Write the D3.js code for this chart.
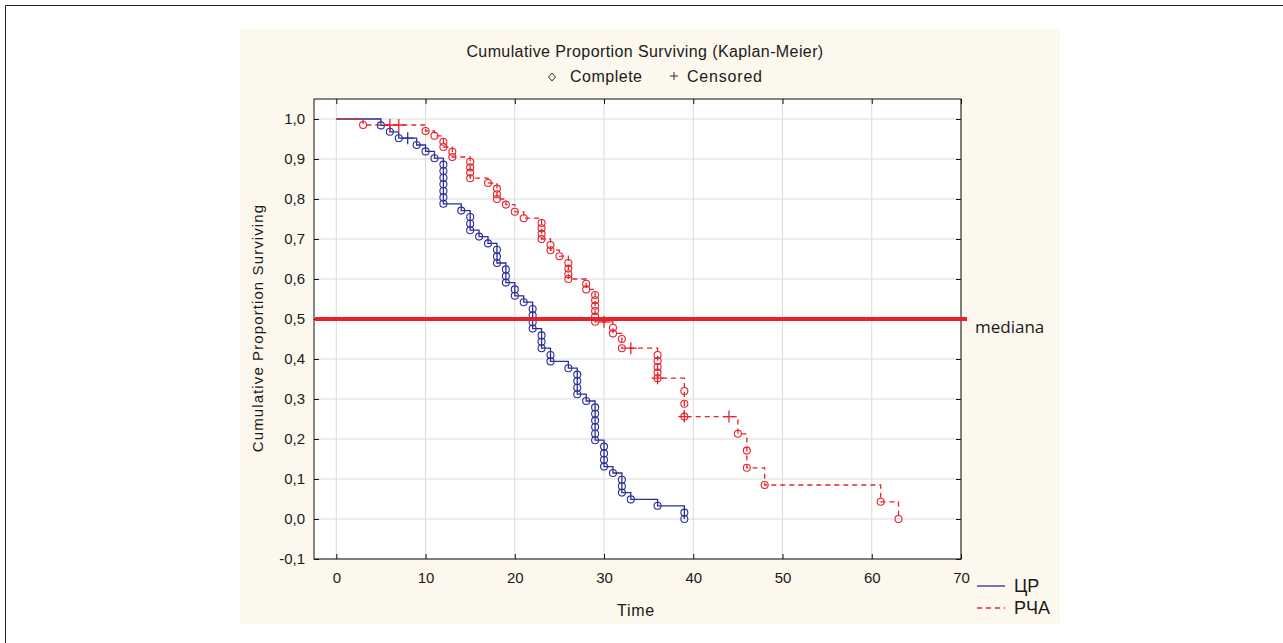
<!DOCTYPE html>
<html>
<head>
<meta charset="utf-8">
<script src="https://cdnjs.cloudflare.com/ajax/libs/d3/7.8.5/d3.min.js"></script>
<style>
    body { margin: 0; background: #fff; }
    text { font-family: "Liberation Sans", Arial, sans-serif; fill: #1a1a1a; }
</style>
</head>
<body>
<div id="chart"></div>
<script>
// ЦР group - complete observations (time, cumulative proportion surviving)
var crTime = [5, 6, 7, 9, 10, 11, 12, 12, 12, 12, 12, 12, 12, 14, 15, 15, 15, 16, 17,
    18, 18, 18, 19, 19, 19, 20, 20, 21, 22, 22, 22, 22, 23, 23, 23, 24, 24, 26,
    27, 27, 27, 27, 28, 29, 29, 29, 29, 29, 29, 30, 30, 30, 30, 31, 32, 32, 32, 33, 36, 39, 39];
var crSurv = [0.984, 0.968, 0.952, 0.935, 0.919, 0.902, 0.886, 0.870, 0.853, 0.837, 0.820, 0.804, 0.788,
    0.771, 0.755, 0.738, 0.722, 0.706, 0.689, 0.673, 0.656, 0.640, 0.624, 0.607, 0.591,
    0.574, 0.558, 0.542, 0.525, 0.509, 0.492, 0.476, 0.459, 0.443, 0.427, 0.410, 0.394,
    0.377, 0.361, 0.345, 0.328, 0.312, 0.295, 0.279, 0.263, 0.246, 0.230, 0.213, 0.197,
    0.181, 0.164, 0.148, 0.131, 0.115, 0.098, 0.082, 0.066, 0.049, 0.033, 0.016, 0.0];
// ЦР censored
var crCensTime = [8];
var crCensSurv = [0.952];

// РЧА group - complete observations
var rchaTime = [3, 10, 11, 12, 12, 13, 13, 15, 15, 15, 15, 17, 18, 18, 18, 19, 20, 21,
    23, 23, 23, 23, 24, 24, 25, 26, 26, 26, 26, 28, 28, 29, 29, 29, 29, 29, 29,
    31, 31, 32, 32, 36, 36, 36, 36, 36, 39, 39, 39, 45, 46, 46, 48, 61, 63];
var rchaSurv = [0.985, 0.970, 0.958, 0.943, 0.930, 0.918, 0.905, 0.893, 0.879, 0.866, 0.852,
    0.840, 0.826, 0.812, 0.800, 0.786, 0.768, 0.752, 0.740, 0.727, 0.713, 0.700,
    0.685, 0.672, 0.657, 0.640, 0.626, 0.612, 0.600, 0.588, 0.574,
    0.560, 0.547, 0.533, 0.520, 0.506, 0.493, 0.478, 0.464, 0.450, 0.427,
    0.410, 0.395, 0.380, 0.366, 0.352, 0.320, 0.288, 0.256, 0.213, 0.171, 0.128, 0.085, 0.043, 0.0];
// РЧА censored
var rchaCensTime = [6, 7, 30, 33, 36, 39, 44];
var rchaCensSurv = [0.985, 0.985, 0.493, 0.427, 0.352, 0.256, 0.256];

var xTicks = [0, 10, 20, 30, 40, 50, 60, 70];
var yTicks = [-0.1, 0, 0.1, 0.2, 0.3, 0.4, 0.5, 0.6, 0.7, 0.8, 0.9, 1.0];
var groupNames = ["ЦР", "РЧА"];
var medianValue = 0.5;

var blue = "#2b2f96", red = "#e8232b";

var margin = { top: 99, left: 314 },
    width = 647,
    height = 460;

var svg = d3.select("#chart")
    .append("svg")
    .attr("width", 1283)
    .attr("height", 643);

// outer border + panel
svg.append("path").attr("d", "M5.5,643V5.5H1283").attr("fill", "none").attr("stroke", "#222");
svg.append("rect")
    .attr("x", 240).attr("y", 29)
    .attr("width", 820).attr("height", 595)
    .attr("fill", "#fcf8ee");

var g = svg.append("g")
    .attr("transform", "translate(" + margin.left + "," + margin.top + ")");

var x = d3.scaleLinear().domain([-2.5, 70]).range([0, width]);
var y = d3.scaleLinear().domain([-0.1, 1.05]).range([height, 0]);

g.append("rect").attr("width", width).attr("height", height).attr("fill", "#fff");

// grid
g.selectAll(".vgrid").data(xTicks).enter().append("line")
    .attr("x1", function (d) { return x(d); }).attr("x2", function (d) { return x(d); })
    .attr("y1", 0).attr("y2", height)
    .attr("stroke", "#dadada");
g.selectAll(".hgrid").data(yTicks).enter().append("line")
    .attr("y1", function (d) { return y(d); }).attr("y2", function (d) { return y(d); })
    .attr("x1", 0).attr("x2", width)
    .attr("stroke", "#dadada");

var fmt = d3.formatLocale({ decimal: ",", thousands: ".", grouping: [3], currency: ["", ""], minus: "-" }).format(".1f");

g.append("g")
    .attr("transform", "translate(0," + height + ")")
    .call(d3.axisBottom(x).tickValues(xTicks).tickSize(-5).tickPadding(13));
g.append("g")
    .call(d3.axisLeft(y).tickValues(yTicks).tickSize(-5).tickPadding(9).tickFormat(fmt));
g.append("g").call(d3.axisTop(x).tickValues(xTicks).tickSize(-5).tickFormat(""));
g.append("g").attr("transform", "translate(" + width + ",0)")
    .call(d3.axisRight(y).tickValues(yTicks).tickSize(-5).tickFormat(""));

g.selectAll(".domain").remove();
g.selectAll(".tick line").attr("stroke", "#111");
g.selectAll(".tick text")
    .style("font-size", "15px")
    .style("font-family", "Liberation Sans, Arial, sans-serif")
    .attr("fill", "#1a1a1a");

g.append("rect").attr("width", width).attr("height", height)
    .attr("fill", "none").attr("stroke", "#111");

// step curves
var line = d3.line()
    .x(function (d) { return x(d[0]); })
    .y(function (d) { return y(d[1]); })
    .curve(d3.curveStepAfter);

function pts(t, s) {
    var out = [[0, 1]];
    t.forEach(function (d, i) { out.push([d, s[i]]); });
    return out;
}

function drawGroup(t, s, ct, cs, color, dash) {
    g.append("path")
        .datum(pts(t, s))
        .attr("d", line)
        .attr("fill", "none")
        .attr("stroke", color)
        .attr("stroke-width", 1.3)
        .attr("stroke-dasharray", dash);

    g.selectAll(null).data(t).enter().append("circle")
        .attr("cx", function (d) { return x(d); })
        .attr("cy", function (d, i) { return y(s[i]); })
        .attr("r", 3.5)
        .attr("fill", "none")
        .attr("stroke", color)
        .attr("stroke-width", 1.1);

    g.selectAll(null).data(ct).enter().append("path")
        .attr("transform", function (d, i) { return "translate(" + x(d) + "," + y(cs[i]) + ")"; })
        .attr("d", "M-6,0H6M0,-6V6")
        .attr("stroke", color)
        .attr("stroke-width", 1.3);
}

drawGroup(crTime, crSurv, crCensTime, crCensSurv, blue, null);
drawGroup(rchaTime, rchaSurv, rchaCensTime, rchaCensSurv, red, "5,4");

// median line
g.append("line")
    .attr("x1", x(-2.5) + 1).attr("x2", x(70) + 6)
    .attr("y1", y(medianValue)).attr("y2", y(medianValue))
    .attr("stroke", "#e8202a")
    .attr("stroke-width", 4);

svg.append("text")
    .attr("x", 975).attr("y", 333)
    .style("font-family", "Open Sans, sans-serif")
    .style("font-size", "17px")
    .text("mediana");

// title + legend
svg.append("text")
    .attr("x", 645).attr("y", 57)
    .attr("text-anchor", "middle")
    .style("font-size", "16px")
    .style("letter-spacing", "0.4px")
    .text("Cumulative Proportion Surviving (Kaplan-Meier)");

svg.append("path")
    .attr("transform", "translate(552,77)")
    .attr("d", "M0,-4L3.5,0L0,4L-3.5,0Z")
    .attr("fill", "none").attr("stroke", "#333");
svg.append("text").attr("x", 570).attr("y", 82)
    .style("font-size", "16px").style("letter-spacing", "0.5px").text("Complete");
svg.append("path")
    .attr("transform", "translate(674,76)")
    .attr("d", "M-4,0H4M0,-4V4")
    .attr("stroke", "#333");
svg.append("text").attr("x", 687).attr("y", 82)
    .style("font-size", "16px").style("letter-spacing", "0.8px").text("Censored");

// axis titles
svg.append("text")
    .attr("transform", "translate(263,328) rotate(-90)")
    .attr("text-anchor", "middle")
    .style("font-size", "15px")
    .style("letter-spacing", "1.1px")
    .text("Cumulative Proportion Surviving");
svg.append("text")
    .attr("x", 636).attr("y", 616)
    .attr("text-anchor", "middle")
    .style("font-size", "16px")
    .style("letter-spacing", "0.8px")
    .text("Time");

// group legend
var leg = svg.append("g");
[blue, red].forEach(function (c, i) {
    leg.append("line")
        .attr("x1", 977).attr("x2", 1005)
        .attr("y1", 586 + i * 22).attr("y2", 586 + i * 22)
        .attr("stroke", c).attr("stroke-width", 1.3)
        .attr("stroke-dasharray", i ? "5,4" : null);
    leg.append("text")
        .attr("x", 1014).attr("y", 592 + i * 22)
        .style("font-size", "18px")
        .text(groupNames[i]);
});
</script>
</body>
</html>
